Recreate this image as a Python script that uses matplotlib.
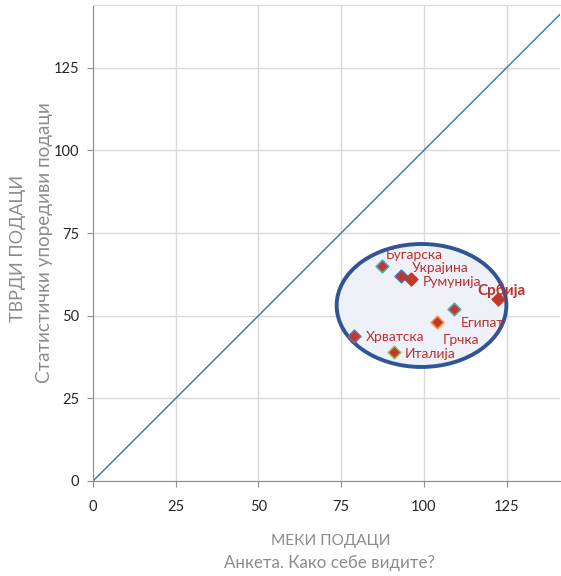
import matplotlib
matplotlib.use("Agg")
import matplotlib.pyplot as plt
from matplotlib.patches import Ellipse

countries = ["Бугарска", "Украјина", "Румунија", "Србија", "Египат", "Грчка", "Хрватска", "Италија"]
soft = [87.5, 93, 96, 122.5, 109, 104, 79, 91]
hard = [65, 62, 61, 55, 52, 48, 44, 39]
edges = ["#4bacc6", "#4472c4", "#c0392b", "#c0392b", "#4bacc6", "#f79646", "#8064a2", "#9bbb59"]
label_offsets = [(1, 3.4), (3.3, 2.5), (3.6, -0.8), (-6.3, 2.5), (2.1, -4.2), (1.7, -5.3), (3.4, -0.4), (3.2, -0.6)]
xticks = [0, 25, 50, 75, 100, 125]
yticks = [0, 25, 50, 75, 100, 125]

plt.rcParams['font.family'] = ['Lato', 'DejaVu Sans']
fig = plt.figure(figsize=(5.61, 5.76), dpi=100)
ax = fig.add_axes([93/561, 1-481/576, 1-93/561-0.001, (481-5)/576])
ax.set_xlim(0, 141.3)
ax.set_ylim(0, 144)

ax.set_xticks(xticks)
ax.set_yticks(yticks)
ax.grid(True, color="#d9d9d9", linewidth=1)
ax.set_axisbelow(True)
for s in ["left", "bottom"]:
    ax.spines[s].set_color("#8c8c8c")
ax.spines["top"].set_color("#d9d9d9")
ax.spines["right"].set_visible(False)
ax.tick_params(axis="both", colors="#8c8c8c", labelcolor="#262626", labelsize=10.5, length=4, direction="out")
ax.tick_params(axis="x", pad=10)
ax.tick_params(axis="y", pad=6)

ax.plot([0, 141.3], [0, 141.3], color="#2e75b6", linewidth=1, zorder=2)

ell = Ellipse((99.3, 53.1), 51.3, 37.2, facecolor="#eef2f8", edgecolor="#2f5597", linewidth=2.8, zorder=3)
ax.add_patch(ell)

for c, x, y, e, (dx, dy) in zip(countries, soft, hard, edges, label_offsets):
    ax.scatter([x], [y], marker="D", s=42, facecolor="#c0392b", edgecolor=e, linewidth=1.1, zorder=5)
    bold = c == "Србија"
    ax.text(x + dx, y + dy, c, color="#be2d2d", fontsize=11 if bold else 10,
            fontweight="bold" if bold else "normal", ha="left", va="center", zorder=6)

fig.text(331/561, 1-541/576, "МЕКИ ПОДАЦИ", color="#8c8c8c", fontsize=11.2, ha="center", va="center")
fig.text(330/561, 1-563/576, "Анкета. Како себе видите?", color="#8c8c8c", fontsize=12.2, ha="center", va="center")
fig.text(18/561, 1-248/576, "ТВРДИ ПОДАЦИ", color="#8c8c8c", fontsize=13, ha="center", va="center", rotation=90)
fig.text(45/561, 1-243/576, "Статистички упоредиви подаци", color="#8c8c8c", fontsize=13.6, ha="center", va="center", rotation=90)

fig.savefig("out.png", dpi=100)
